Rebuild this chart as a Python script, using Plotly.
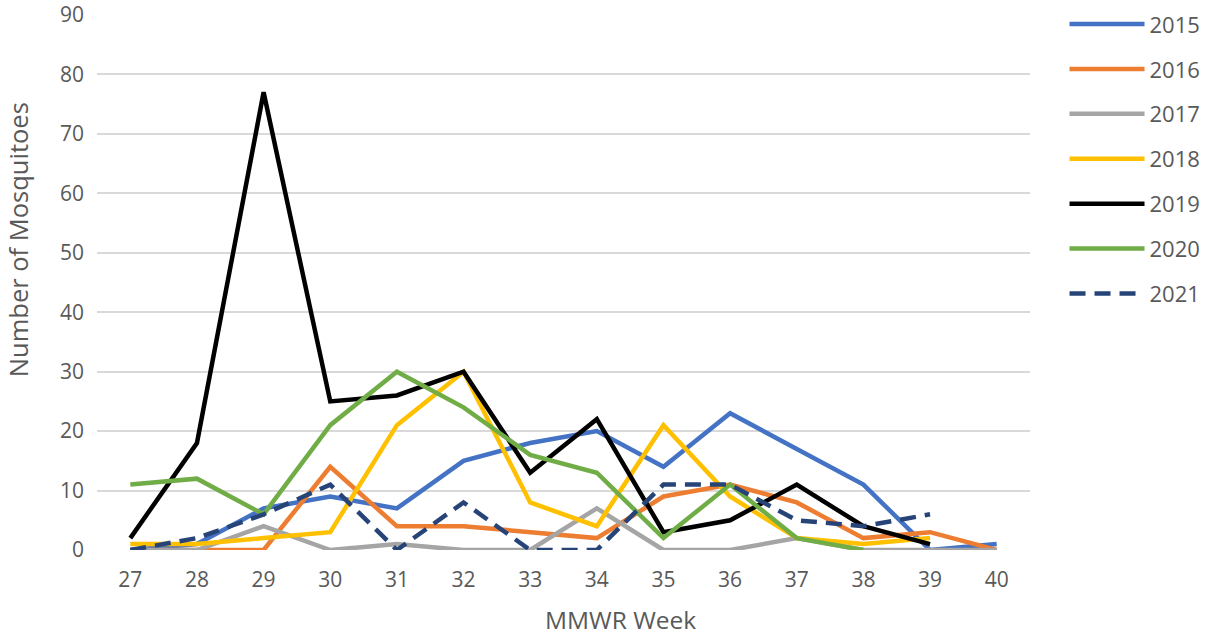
import plotly.graph_objects as go

weeks = [27, 28, 29, 30, 31, 32, 33, 34, 35, 36, 37, 38, 39, 40]

y2015 = [0, 1, 7, 9, 7, 15, 18, 20, 14, 23, 17, 11, 0, 1]
y2016 = [0, 0, 0, 14, 4, 4, 3, 2, 9, 11, 8, 2, 3, 0]
y2017 = [0, 0, 4, 0, 1, 0, 0, 7, 0, 0, 2, 0, 0, 0]
y2018 = [1, 1, 2, 3, 21, 30, 8, 4, 21, 9, 2, 1, 2, None]
y2019 = [2, 18, 77, 25, 26, 30, 13, 22, 3, 5, 11, 4, 1, None]
y2020 = [11, 12, 6, 21, 30, 24, 16, 13, 2, 11, 2, 0, None, None]
y2021 = [0, 2, 6, 11, 0, 8, 0, 0, 11, 11, 5, 4, 6, None]

series = [
    ("2015", y2015, "#4472C4", "solid"),
    ("2016", y2016, "#ED7D31", "solid"),
    ("2017", y2017, "#A5A5A5", "solid"),
    ("2018", y2018, "#FFC000", "solid"),
    ("2019", y2019, "#000000", "solid"),
    ("2020", y2020, "#70AD47", "solid"),
    ("2021", y2021, "#264478", "16px,9px"),
]

FONT = "Open Sans"
GREY = "#595959"

fig = go.Figure()
for name, vals, col, dash in series:
    fig.add_trace(go.Scatter(
        x=[str(w) for w in weeks], y=vals, name=name, mode="lines",
        line=dict(color=col, width=4.5, dash=dash),
        legendgroup=name, connectgaps=False,
    ))

fig.update_layout(
    width=1208, height=635,
    paper_bgcolor="white", plot_bgcolor="white",
    margin=dict(l=97, r=178, t=15, b=85, autoexpand=False),
    font=dict(family=FONT, color=GREY, size=21),
    legend=dict(
        x=1.037, y=1.022, xanchor="left", yanchor="top",
        font=dict(size=22, color=GREY),
        itemwidth=75, tracegroupgap=13.3,
        bgcolor="rgba(0,0,0,0)",
    ),
    showlegend=True,
)
fig.update_xaxes(
    type="category", range=[-0.5, len(weeks) - 0.5],
    showgrid=False, zeroline=False, showline=False, automargin=False,
    ticks="", tickfont=dict(size=21, color=GREY), ticklabelstandoff=15,
)
fig.update_yaxes(
    range=[0, 90], dtick=10, showgrid=True, gridcolor="#D9D9D9", gridwidth=1.5,
    zeroline=False, showline=False, ticks="", ticklabelstandoff=12, automargin=False,
    tickfont=dict(size=21, color=GREY),
)

# axis titles as annotations: in the original they sit off-centre
fig.add_annotation(text="MMWR Week", xref="paper", yref="paper",
                   x=0.5606, y=-0.1308, xanchor="center", yanchor="middle",
                   showarrow=False, font=dict(size=24.5, color=GREY))
fig.add_annotation(text="Number of Mosquitoes", xref="paper", yref="paper",
                   x=-0.0847, y=0.581, xanchor="center", yanchor="middle",
                   textangle=-90, showarrow=False, font=dict(size=25.5, color=GREY))

# drop the page's default 8px body margin so the figure sits at the window corner
fig.write_html("out.html", config={"displayModeBar": False},
               post_script="document.body.style.margin='0';")
